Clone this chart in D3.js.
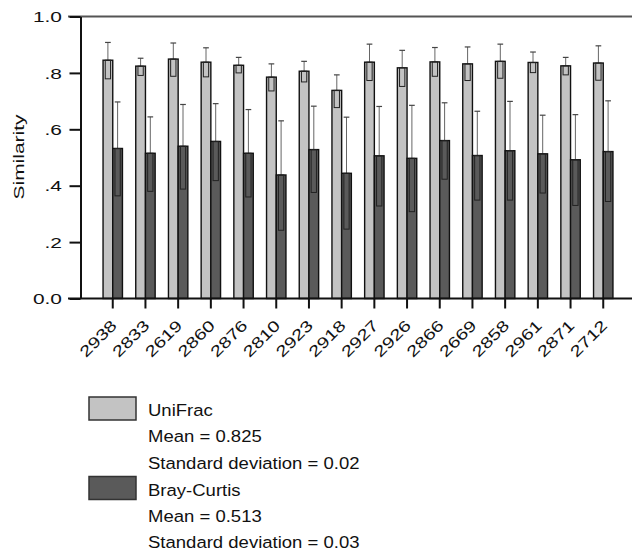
<!DOCTYPE html>
<html><head><meta charset="utf-8">
<script src="https://cdn.jsdelivr.net/npm/d3@7"></script>
<style>body{margin:0;background:#fff}svg{display:block;font-family:"Liberation Sans",Arial,sans-serif}</style>
</head><body>
<script>
const categories = ["2938","2833","2619","2860","2876","2810","2923","2918","2927","2926","2866","2669","2858","2961","2871","2712"];
const seriesNames = ["UniFrac","Bray-Curtis"];
const unifracMean  = [0.845,0.824,0.849,0.838,0.827,0.785,0.806,0.738,0.838,0.818,0.839,0.832,0.841,0.837,0.825,0.835];
const unifracHigh  = [0.908,0.852,0.906,0.889,0.855,0.832,0.841,0.793,0.902,0.880,0.890,0.892,0.902,0.874,0.855,0.896];
const unifracLow   = [0.779,0.791,0.788,0.786,0.800,0.736,0.768,0.677,0.773,0.752,0.788,0.773,0.781,0.801,0.793,0.774];
const brayMean     = [0.532,0.515,0.540,0.557,0.515,0.438,0.528,0.444,0.506,0.497,0.560,0.507,0.524,0.513,0.492,0.521];
const brayHigh     = [0.697,0.644,0.688,0.691,0.670,0.630,0.682,0.643,0.681,0.685,0.694,0.664,0.699,0.650,0.652,0.701];
const brayLow      = [0.364,0.380,0.388,0.418,0.360,0.242,0.376,0.246,0.328,0.308,0.423,0.349,0.349,0.374,0.330,0.344];
const yTickValues  = [0,0.2,0.4,0.6,0.8,1.0];
const yTickLabels  = ["0.0",".2",".4",".6",".8","1.0"];
const legendLines  = [["UniFrac","Mean = 0.825","Standard deviation = 0.02"],["Bray-Curtis","Mean = 0.513","Standard deviation = 0.03"]];
const colors = ["#c3c3c3","#5a5a5a"];

const W=632,H=552;
const svg=d3.select("body").append("svg").attr("width",W).attr("height",H);
const y=d3.scaleLinear().domain([0,1]).range([298.5,16.5]);
const x=d3.scaleBand().domain(categories).range([96.4,619.6]).padding(0);
const xs=d3.scaleBand().domain(seriesNames).range([0,19.4]).padding(0);

const data=categories.map((c,i)=>[
  {cat:c,s:seriesNames[0],m:unifracMean[i],hi:unifracHigh[i],lo:unifracLow[i],col:colors[0]},
  {cat:c,s:seriesNames[1],m:brayMean[i],hi:brayHigh[i],lo:brayLow[i],col:colors[1]}
]).flat();
const off=x.bandwidth()/2-9.7;

// top line
svg.append("line").attr("x1",68).attr("x2",W).attr("y1",y(1)).attr("y2",y(1)).attr("stroke","#555").attr("stroke-width",2);

// bars
const g=svg.append("g");
data.forEach(d=>{
  const bx=x(d.cat)+off+xs(d.s), bw=xs.bandwidth();
  g.append("line").attr("x1",bx+bw/2).attr("x2",bx+bw/2).attr("y1",y(d.m)).attr("y2",y(d.hi)).attr("stroke","#666").attr("stroke-width",1);
  g.append("line").attr("x1",bx+2).attr("x2",bx+bw-2).attr("y1",y(d.hi)).attr("y2",y(d.hi)).attr("stroke","#444").attr("stroke-width",1.2);
  g.append("rect").attr("x",bx).attr("y",y(d.m)).attr("width",bw).attr("height",y(0)-y(d.m))
    .attr("fill",d.col).attr("stroke","#111").attr("stroke-width",1.4);
  g.append("rect").attr("x",bx+2.2).attr("y",y(d.m)).attr("width",bw-4.4).attr("height",y(d.lo)-y(d.m))
    .attr("fill","none").attr("stroke","#222").attr("stroke-width",1);
});

// y axis
const ya=d3.axisLeft(y).tickValues(yTickValues).tickFormat((d,i)=>yTickLabels[i]).tickSize(11).tickSizeOuter(0);
const yg=svg.append("g").attr("transform","translate(80.5,0)").call(ya);
yg.select(".domain").attr("stroke","#111").attr("stroke-width",2);
yg.selectAll(".tick line").attr("stroke","#111").attr("stroke-width",2);
yg.selectAll(".tick text").attr("font-size",15.5).attr("fill","#111").attr("font-family","Liberation Sans, Arial, sans-serif")
  .attr("x",0).attr("dy","0.34em").attr("transform","translate(-18.5,0) scale(1.35,1)");

// x axis
svg.append("line").attr("x1",68).attr("x2",W).attr("y1",y(0)).attr("y2",y(0)).attr("stroke","#111").attr("stroke-width",2);
const xa=d3.axisBottom(x).tickSize(10).tickSizeOuter(0);
const xg=svg.append("g").attr("transform",`translate(0,${y(0)})`).call(xa);
xg.select(".domain").remove();
xg.selectAll(".tick line").attr("stroke","#111").attr("stroke-width",2);
xg.selectAll(".tick text").attr("font-size",15.5).attr("fill","#111").attr("font-family","Liberation Sans, Arial, sans-serif")
  .attr("text-anchor","end").attr("dy",0).attr("y",0)
  .attr("transform","translate(5,28) rotate(-45) scale(1.3,1)");

// y label
svg.append("text").attr("transform","translate(23.5,157) rotate(-90) scale(1.35,1)").attr("text-anchor","middle")
  .attr("font-size",15.5).attr("fill","#111").text("Similarity");

// legend
legendLines.forEach((lines,k)=>{
  const top=397+k*79.5;
  svg.append("rect").attr("x",89).attr("y",top).attr("width",47).attr("height",23)
    .attr("fill",colors[k]).attr("stroke","#333").attr("stroke-width",1.5);
  lines.forEach((t,j)=>{
    svg.append("text").attr("transform",`translate(148,${top+19+j*26.3}) scale(1.09,1)`)
      .attr("font-size",17).attr("fill","#111").text(t);
  });
});
</script>
</body></html>
